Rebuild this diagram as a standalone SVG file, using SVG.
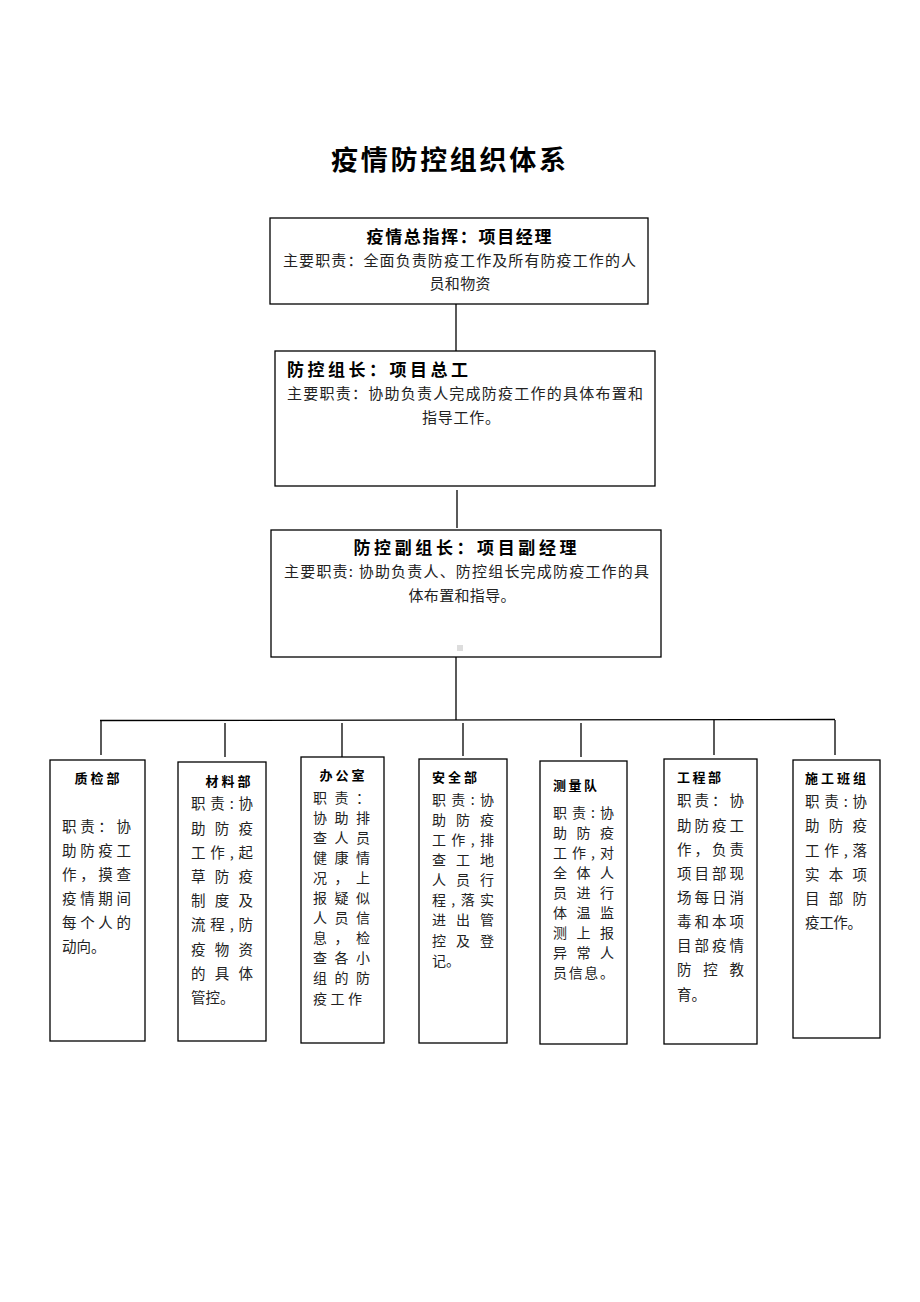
<svg xmlns="http://www.w3.org/2000/svg" width="920" height="1302" viewBox="0 0 920 1302">
<style>
text{font-family:"Noto Sans CJK SC","Noto Sans",sans-serif;}
.box{fill:#fff;stroke:#000;stroke-width:1.3;}
.ln{stroke:#000;stroke-width:1.3;fill:none;}
.ttl{font-size:27px;font-weight:bold;fill:#000;}
.h{font-size:17px;font-weight:bold;fill:#000;}
.b{font-size:15px;fill:#222;}
.sh{font-size:13px;font-weight:bold;fill:#000;}
.s{font-size:14.5px;fill:#222;}
.s2{font-size:14px;fill:#222;}
</style>
<rect width="920" height="1302" fill="#fff"/>
<text class="ttl" x="331" y="170" textLength="235" lengthAdjust="spacing">疫情防控组织体系</text>

<g id="connectors">
<line class="ln" x1="456" y1="304" x2="456" y2="351"/>
<line class="ln" x1="457" y1="490" x2="457" y2="528"/>
<line class="ln" x1="456" y1="657" x2="456" y2="720"/>
<line class="ln" x1="100" y1="720.5" x2="835" y2="719.5"/>
<line class="ln" x1="101" y1="720" x2="101" y2="755"/>
<line class="ln" x1="225" y1="723" x2="225" y2="757"/>
<line class="ln" x1="342" y1="723" x2="342" y2="757"/>
<line class="ln" x1="463" y1="723" x2="463" y2="756"/>
<line class="ln" x1="581" y1="723" x2="581" y2="757"/>
<line class="ln" x1="714" y1="720" x2="714" y2="755"/>
<line class="ln" x1="835" y1="720" x2="835" y2="755"/>
</g>

<g id="n-commander">
<rect class="box" x="270" y="218" width="378" height="86"/>
<text class="h" x="459" y="243" text-anchor="middle" textLength="185" lengthAdjust="spacing">疫情总指挥：项目经理</text>
<text class="b" x="283" y="266" textLength="353" lengthAdjust="spacing">主要职责：全面负责防疫工作及所有防疫工作的人</text>
<text class="b" x="460" y="289" text-anchor="middle" textLength="61" lengthAdjust="spacing">员和物资</text>
</g>

<g id="n-leader">
<rect class="box" x="275" y="351" width="380" height="135"/>
<text class="h" x="287" y="376" textLength="181" lengthAdjust="spacing">防控组长：项目总工</text>
<text class="b" x="287" y="399" textLength="356" lengthAdjust="spacing">主要职责：协助负责人完成防疫工作的具体布置和</text>
<text class="b" x="461" y="423" text-anchor="middle" textLength="78" lengthAdjust="spacing">指导工作。</text>
</g>

<g id="n-deputy">
<rect class="box" x="271" y="530" width="390" height="127"/>
<text class="h" x="465" y="554" text-anchor="middle" textLength="223" lengthAdjust="spacing">防控副组长：项目副经理</text>
<text class="b" x="284" y="577" textLength="365" lengthAdjust="spacing">主要职责: 协助负责人、防控组长完成防疫工作的具</text>
<text class="b" x="462" y="601" text-anchor="middle" textLength="107" lengthAdjust="spacing">体布置和指导。</text>
<rect x="457" y="645" width="6" height="6" fill="#ddd"/>
</g>

<g id="n-zhijian">
<rect class="box" x="50" y="760" width="95" height="281"/>
<text class="sh" x="97" y="783" text-anchor="middle" textLength="45" lengthAdjust="spacing">质检部</text>
<text class="s" x="62" y="832" textLength="69" lengthAdjust="spacing">职责：协</text>
<text class="s" x="62" y="856" textLength="69" lengthAdjust="spacing">助防疫工</text>
<text class="s" x="62" y="880" textLength="69" lengthAdjust="spacing">作，摸查</text>
<text class="s" x="62" y="904" textLength="69" lengthAdjust="spacing">疫情期间</text>
<text class="s" x="62" y="928" textLength="69" lengthAdjust="spacing">每个人的</text>
<text class="s" x="62" y="952">动向。</text>
</g>

<g id="n-cailiao">
<rect class="box" x="178" y="762" width="88" height="279"/>
<text class="sh" x="228" y="786" text-anchor="middle" textLength="45" lengthAdjust="spacing">材料部</text>
<text class="s" x="191" y="809" textLength="62" lengthAdjust="spacing">职责:协</text>
<text class="s" x="191" y="834" textLength="62" lengthAdjust="spacing">助防疫</text>
<text class="s" x="191" y="858" textLength="62" lengthAdjust="spacing">工作,起</text>
<text class="s" x="191" y="882" textLength="62" lengthAdjust="spacing">草防疫</text>
<text class="s" x="191" y="906" textLength="62" lengthAdjust="spacing">制度及</text>
<text class="s" x="191" y="930" textLength="62" lengthAdjust="spacing">流程,防</text>
<text class="s" x="191" y="955" textLength="62" lengthAdjust="spacing">疫物资</text>
<text class="s" x="191" y="979" textLength="62" lengthAdjust="spacing">的具体</text>
<text class="s" x="191" y="1003">管控。</text>
</g>

<g id="n-bangong">
<rect class="box" x="301" y="757" width="83" height="286"/>
<text class="sh" x="342" y="780" text-anchor="middle" textLength="45" lengthAdjust="spacing">办公室</text>
<text class="s2" x="313" y="803" textLength="57" lengthAdjust="spacing">职责：</text>
<text class="s2" x="313" y="823" textLength="57" lengthAdjust="spacing">协助排</text>
<text class="s2" x="313" y="843" textLength="57" lengthAdjust="spacing">查人员</text>
<text class="s2" x="313" y="863" textLength="57" lengthAdjust="spacing">健康情</text>
<text class="s2" x="313" y="883" textLength="57" lengthAdjust="spacing">况，上</text>
<text class="s2" x="313" y="903" textLength="57" lengthAdjust="spacing">报疑似</text>
<text class="s2" x="313" y="923" textLength="57" lengthAdjust="spacing">人员信</text>
<text class="s2" x="313" y="943" textLength="57" lengthAdjust="spacing">息，检</text>
<text class="s2" x="313" y="963" textLength="57" lengthAdjust="spacing">查各小</text>
<text class="s2" x="313" y="983" textLength="57" lengthAdjust="spacing">组的防</text>
<text class="s2" x="313" y="1004" textLength="49" lengthAdjust="spacing">疫工作</text>
</g>

<g id="n-anquan">
<rect class="box" x="419" y="759" width="88" height="284"/>
<text class="sh" x="432" y="782" textLength="45" lengthAdjust="spacing">安全部</text>
<text class="s2" x="432" y="805" textLength="62" lengthAdjust="spacing">职责:协</text>
<text class="s2" x="432" y="825" textLength="62" lengthAdjust="spacing">助防疫</text>
<text class="s2" x="432" y="845" textLength="62" lengthAdjust="spacing">工作,排</text>
<text class="s2" x="432" y="865" textLength="62" lengthAdjust="spacing">查工地</text>
<text class="s2" x="432" y="885" textLength="62" lengthAdjust="spacing">人员行</text>
<text class="s2" x="432" y="905" textLength="62" lengthAdjust="spacing">程,落实</text>
<text class="s2" x="432" y="925" textLength="62" lengthAdjust="spacing">进出管</text>
<text class="s2" x="432" y="946" textLength="62" lengthAdjust="spacing">控及登</text>
<text class="s2" x="432" y="966">记。</text>
</g>

<g id="n-celiang">
<rect class="box" x="540" y="761" width="87" height="283"/>
<text class="sh" x="553" y="790" textLength="44" lengthAdjust="spacing">测量队</text>
<text class="s2" x="553" y="818" textLength="61" lengthAdjust="spacing">职责:协</text>
<text class="s2" x="553" y="838" textLength="61" lengthAdjust="spacing">助防疫</text>
<text class="s2" x="553" y="858" textLength="61" lengthAdjust="spacing">工作,对</text>
<text class="s2" x="553" y="878" textLength="61" lengthAdjust="spacing">全体人</text>
<text class="s2" x="553" y="898" textLength="61" lengthAdjust="spacing">员进行</text>
<text class="s2" x="553" y="918" textLength="61" lengthAdjust="spacing">体温监</text>
<text class="s2" x="553" y="938" textLength="61" lengthAdjust="spacing">测上报</text>
<text class="s2" x="553" y="958" textLength="61" lengthAdjust="spacing">异常人</text>
<text class="s2" x="553" y="978" textLength="61" lengthAdjust="spacing">员信息。</text>
</g>

<g id="n-gongcheng">
<rect class="box" x="664" y="759" width="93" height="285"/>
<text class="sh" x="677" y="782" textLength="44" lengthAdjust="spacing">工程部</text>
<text class="s" x="677" y="806" textLength="67" lengthAdjust="spacing">职责：协</text>
<text class="s" x="677" y="831" textLength="67" lengthAdjust="spacing">助防疫工</text>
<text class="s" x="677" y="855" textLength="67" lengthAdjust="spacing">作，负责</text>
<text class="s" x="677" y="879" textLength="67" lengthAdjust="spacing">项目部现</text>
<text class="s" x="677" y="903" textLength="67" lengthAdjust="spacing">场每日消</text>
<text class="s" x="677" y="927" textLength="67" lengthAdjust="spacing">毒和本项</text>
<text class="s" x="677" y="951" textLength="67" lengthAdjust="spacing">目部疫情</text>
<text class="s" x="677" y="975" textLength="67" lengthAdjust="spacing">防控教</text>
<text class="s" x="677" y="1000">育。</text>
</g>

<g id="n-banzu">
<rect class="box" x="793" y="760" width="87" height="278"/>
<text class="sh" x="805" y="783" textLength="61" lengthAdjust="spacing">施工班组</text>
<text class="s" x="805" y="807" textLength="62" lengthAdjust="spacing">职责:协</text>
<text class="s" x="805" y="831" textLength="62" lengthAdjust="spacing">助防疫</text>
<text class="s" x="805" y="856" textLength="62" lengthAdjust="spacing">工作,落</text>
<text class="s" x="805" y="880" textLength="62" lengthAdjust="spacing">实本项</text>
<text class="s" x="805" y="904" textLength="62" lengthAdjust="spacing">目部防</text>
<text class="s" x="805" y="928" textLength="57" lengthAdjust="spacing">疫工作。</text>
</g>
</svg>
